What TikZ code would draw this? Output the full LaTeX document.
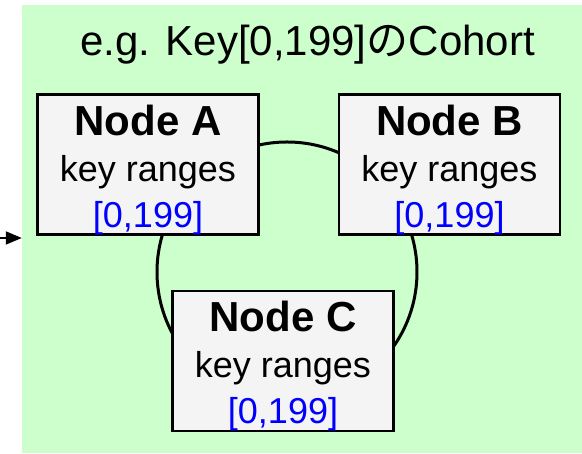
\documentclass[tikz,border=0pt]{standalone}
\usepackage{fontspec}
\setmainfont{Liberation Sans}
\newfontfamily\cjk{Noto Sans CJK JP}
\usetikzlibrary{arrows.meta}
\definecolor{cohortgreen}{HTML}{CCFFCC}
\definecolor{boxgray}{HTML}{F4F4F4}
\definecolor{rangeblue}{HTML}{0000FF}
\begin{document}
\begin{tikzpicture}[x=1pt,y=1pt,
  cohortbox/.style={rectangle, fill=cohortgreen, draw=none, minimum width=560pt, minimum height=448pt, inner sep=0pt},
  nodebox/.style={rectangle, draw=black, line width=2.4pt, fill=boxgray, minimum width=221pt, minimum height=137pt, inner sep=0pt, align=center, font=\fontsize{36}{46}\selectfont},
  ring/.style={draw=black, line width=3pt},
  feed/.style={draw=black, line width=1.8pt, -{Triangle[length=16pt,width=13pt]}}
]
\useasboundingbox (0,0) rectangle (582,454);
\node[cohortbox] (cohort) at (302,225) {};
\node[anchor=base, font=\fontsize{42}{50}\selectfont] (title) at (307.5,398.5) {e.g. Key[0,199]{\cjk の}Cohort};
\coordinate (ringc) at (287,182);
\draw[ring] (ringc) circle[radius=130pt];
\newcommand{\nodetext}[1]{{\fontsize{42}{46}\selectfont\bfseries\rule{0pt}{40.6pt}Node #1}\\key ranges\\\textcolor{rangeblue}{[0,199]}}
\node[nodebox] (A) at (148,289.5) {\nodetext{A}};
\node[nodebox] (B) at (449.5,289.5) {\nodetext{B}};
\node[nodebox] (C) at (283,93) {\nodetext{C}};
\coordinate (src) at (0,216);
\draw[feed] (src) -- (src -| cohort.west);
\end{tikzpicture}
\end{document}
